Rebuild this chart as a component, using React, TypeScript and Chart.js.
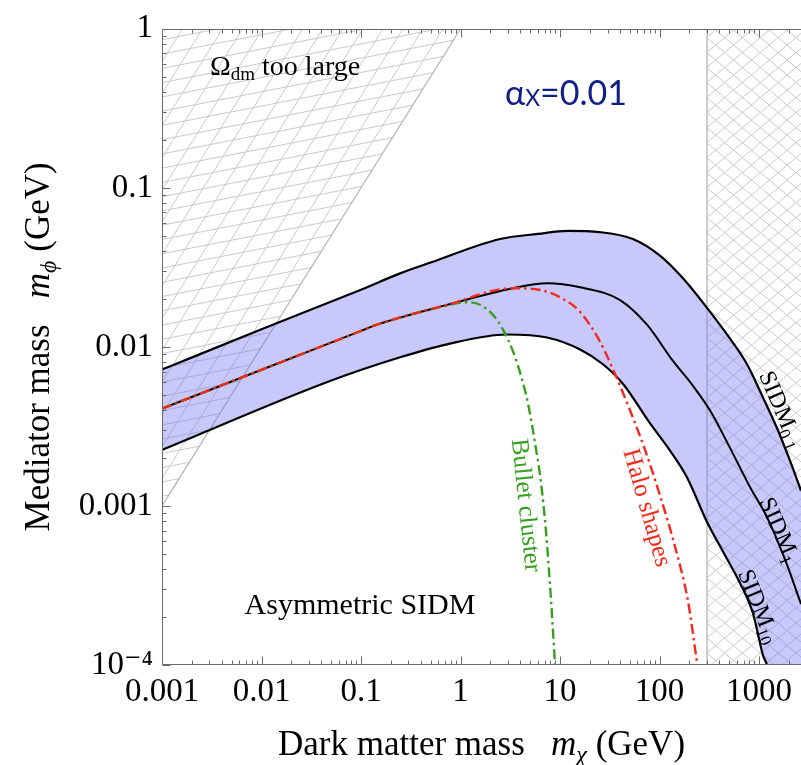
import React, { useEffect, useRef } from 'react';
import { Chart, registerables } from 'chart.js';

Chart.register(...registerables);

// ---------- axis ranges and tick labels ----------
const X_MIN = 0.001;
const X_MAX = 2640;
const Y_MIN = 1e-4;
const Y_MAX = 1;

const X_MAJOR = [0.001, 0.01, 0.1, 1, 10, 100, 1000];
const X_LABELS = ['0.001', '0.01', '0.1', '1', '10', '100', '1000'];
const Y_MAJOR = [1e-4, 1e-3, 0.01, 0.1, 1];
const Y_LABELS = ['10⁻⁴', '0.001', '0.01', '0.1', '1'];

// ---------- curves ----------
// SIDM 0.1 cm^2/g  (upper edge of band)
const SIDM01_X = [0.001, 0.01, 0.1, 0.247, 0.5, 2.5, 6, 12, 25, 54, 101, 172, 300, 476, 757, 1096, 1517, 2050, 2640];
const SIDM01_Y = [0.0072, 0.0129, 0.0229, 0.029, 0.0339, 0.0477, 0.0513, 0.0536, 0.0527, 0.0477, 0.0375, 0.027, 0.0176, 0.01197, 0.00778, 0.0048, 0.00308, 0.00192, 0.00125];

// SIDM 1 cm^2/g  (middle)
const SIDM1_X = [0.001, 0.01, 0.1, 0.145, 0.731, 3.37, 7.4, 15.9, 40.1, 74.8, 137, 217, 322, 512, 813, 1203, 1823, 2640];
const SIDM1_Y = [0.00409, 0.00718, 0.0126, 0.0138, 0.01837, 0.02339, 0.0251, 0.0237, 0.0197, 0.0138, 0.00813, 0.00569, 0.00398, 0.00231, 0.00131, 0.000851, 0.000461, 0.000242];

// SIDM 10 cm^2/g  (lower edge of band)
const SIDM10_X = [0.001, 0.0488, 0.247, 0.731, 2.93, 7.4, 15.9, 27.0, 43.0, 80.4, 128, 189, 300, 434, 644, 871, 1096, 1203, 1445, 2640];
const SIDM10_Y = [0.00225, 0.0061, 0.0086, 0.01038, 0.01197, 0.01146, 0.00964, 0.00778, 0.00585, 0.0033, 0.00222, 0.00151, 0.000793, 0.000517, 0.000327, 0.00021, 0.000115, 0.0001, 0.00006, 0.000026];

// Bullet cluster constraint
const BULLET_X = [0.001, 0.01, 0.1, 0.145, 0.731, 1.16, 1.57, 2.12, 2.67, 3.37, 4.06, 4.77, 5.61, 6.44, 7.23, 8.13, 8.91];
const BULLET_Y = [0.00409, 0.00718, 0.0126, 0.0138, 0.0182, 0.0191, 0.0184, 0.0159, 0.01284, 0.00938, 0.00656, 0.0044, 0.00248, 0.0014, 0.000687, 0.000253, 0.0001];

// Halo shapes constraint
const HALO_X = [0.001, 0.01, 0.1, 0.145, 0.731, 3.37, 6.3, 10, 15.9, 25.2, 35.7, 50.6, 71.5, 101, 143, 193, 240];
const HALO_Y = [0.00409, 0.00718, 0.0126, 0.0138, 0.01837, 0.0234, 0.0228, 0.0205, 0.0166, 0.0108, 0.00675, 0.00398, 0.00225, 0.001166, 0.000555, 0.000253, 0.0001];

// Omega_dm too large boundary (m_phi = m_chi) and the 300 GeV boundary
const OMEGA_X = [0.001, 1];
const OMEGA_Y = [0.001, 1];
const UNIT_X = [300, 300];
const UNIT_Y = [1e-4, 1];

// ---------- styles ----------
const SERIF = "'Liberation Serif', 'DejaVu Serif', 'Times New Roman', serif";
const SANS = "Lato, 'Open Sans', 'DejaVu Sans', sans-serif";
const BAND = 'rgba(118,118,243,0.40)';
const RED = '#f5281c';
const GREEN = '#35a01c';
const NAVY = '#10208a';
const AXIS = '#6a6a6a';
const HATCH = '#c9c9c9';

type Part = { t: string; font: string; dy?: number };

type Label = {
  parts: Part[];
  x: number;
  y: number;
  angle: number;
  color: string;
  mode: 'center' | 'left';
};

const LABELS: Label[] = [
  { parts: [{ t: 'Ω', font: `28px ${SERIF}` }, { t: 'dm', font: `19px ${SERIF}`, dy: 5 }, { t: ' too large', font: `28px ${SERIF}` }], x: 0.00303, y: 0.511, angle: 0, color: '#000', mode: 'left' },
  { parts: [{ t: 'α', font: `34px ${SANS}` }, { t: 'X', font: `23px ${SANS}`, dy: 1 }, { t: '=0.01', font: `34px ${SANS}` }], x: 2.8, y: 0.333, angle: 0, color: NAVY, mode: 'left' },
  { parts: [{ t: 'Asymmetric SIDM', font: `30px ${SERIF}` }], x: 0.0977, y: 0.00021, angle: 0, color: '#000', mode: 'center' },
  { parts: [{ t: 'Bullet cluster', font: `25px ${SERIF}` }], x: 4.66, y: 0.00101, angle: 84, color: GREEN, mode: 'center' },
  { parts: [{ t: 'Halo shapes', font: `25px ${SERIF}` }], x: 76.6, y: 0.00098, angle: 74, color: RED, mode: 'center' },
  { parts: [{ t: 'SIDM', font: `24px ${SERIF}` }, { t: '0.1', font: `17px ${SERIF}`, dy: 5 }], x: 1700, y: 0.00405, angle: 67, color: '#000', mode: 'center' },
  { parts: [{ t: 'SIDM', font: `24px ${SERIF}` }, { t: '1', font: `17px ${SERIF}`, dy: 5 }], x: 1620, y: 0.00071, angle: 66, color: '#000', mode: 'center' },
  { parts: [{ t: 'SIDM', font: `24px ${SERIF}` }, { t: '10', font: `17px ${SERIF}`, dy: 5 }], x: 1010, y: 0.000235, angle: 68, color: '#000', mode: 'center' },
];

const X_TITLE: Part[] = [
  { t: 'Dark matter mass   ', font: `35px ${SERIF}` },
  { t: 'm', font: `italic 35px ${SERIF}` },
  { t: 'χ', font: `italic 24px ${SERIF}`, dy: 7 },
  { t: ' (GeV)', font: `35px ${SERIF}` },
];
const Y_TITLE: Part[] = [
  { t: 'Mediator mass   ', font: `35px ${SERIF}` },
  { t: 'm', font: `italic 35px ${SERIF}` },
  { t: 'ϕ', font: `italic 24px ${SERIF}`, dy: 7 },
  { t: ' (GeV)', font: `35px ${SERIF}` },
];

function minorTicks(majors: number[], lo: number, hi: number): number[] {
  const out: number[] = [];
  for (const m of majors) {
    for (let k = 1; k <= 9; k++) {
      const v = m * k;
      if (v >= lo * 0.999 && v <= hi * 1.001) out.push(v);
    }
  }
  return out;
}
const X_TICKS = minorTicks(X_MAJOR, X_MIN, X_MAX);
const Y_TICKS = minorTicks(Y_MAJOR, Y_MIN, Y_MAX);

function isMajor(v: number, majors: number[]): number {
  for (let i = 0; i < majors.length; i++) {
    if (Math.abs(Math.log10(v) - Math.log10(majors[i])) < 1e-6) return i;
  }
  return -1;
}

function richWidth(ctx: CanvasRenderingContext2D, parts: Part[]) {
  let w = 0;
  for (const p of parts) {
    ctx.font = p.font;
    w += ctx.measureText(p.t).width;
  }
  return w;
}
function drawRich(ctx: CanvasRenderingContext2D, parts: Part[], x: number, y: number) {
  let cx = x;
  for (const p of parts) {
    ctx.font = p.font;
    ctx.fillText(p.t, cx, y + (p.dy || 0));
    cx += ctx.measureText(p.t).width;
  }
}

function hatchFamily(ctx: CanvasRenderingContext2D, a: any, deg: number, s: number) {
  const t = (deg * Math.PI) / 180;
  const dx = Math.cos(t);
  const dy = -Math.sin(t);
  const nx = -dy;
  const ny = dx;
  const corners = [
    [a.left, a.top],
    [a.right, a.top],
    [a.left, a.bottom],
    [a.right, a.bottom],
  ];
  const cs = corners.map(([px, py]) => px * nx + py * ny);
  const cmin = Math.min(...cs);
  const cmax = Math.max(...cs);
  const L = 4000;
  ctx.beginPath();
  for (let c = Math.floor(cmin / s) * s; c <= cmax + s; c += s) {
    const px = nx * c;
    const py = ny * c;
    ctx.moveTo(px - dx * L, py - dy * L);
    ctx.lineTo(px + dx * L, py + dy * L);
  }
  ctx.stroke();
}

const hatchPlugin = {
  id: 'hatchRegions',
  beforeDatasetsDraw(chart: any) {
    const { ctx, chartArea: a, scales } = chart;
    const x = scales.x;
    const y = scales.y;
    ctx.save();
    ctx.beginPath();
    ctx.rect(a.left, a.top, a.right - a.left, a.bottom - a.top);
    ctx.clip();
    ctx.strokeStyle = HATCH;
    ctx.lineWidth = 1;
    // Omega_dm too large: above m_phi = m_chi
    ctx.save();
    ctx.beginPath();
    ctx.moveTo(x.getPixelForValue(OMEGA_X[0]), y.getPixelForValue(OMEGA_Y[0]));
    ctx.lineTo(x.getPixelForValue(OMEGA_X[1]), y.getPixelForValue(OMEGA_Y[1]));
    ctx.lineTo(x.getPixelForValue(X_MIN), y.getPixelForValue(Y_MAX));
    ctx.closePath();
    ctx.clip();
    hatchFamily(ctx, a, 11, 14);
    hatchFamily(ctx, a, 58, 17);
    ctx.restore();
    // right region beyond 300 GeV
    ctx.save();
    const xr = x.getPixelForValue(UNIT_X[0]);
    ctx.beginPath();
    ctx.rect(xr, a.top, a.right - xr + 2, a.bottom - a.top);
    ctx.clip();
    hatchFamily(ctx, a, 40, 11.5);
    hatchFamily(ctx, a, -40, 11.5);
    ctx.restore();
    ctx.restore();
  },
};

const framePlugin = {
  id: 'frameTicks',
  afterDatasetsDraw(chart: any) {
    const { ctx, chartArea: a, scales } = chart;
    const x = scales.x;
    const y = scales.y;
    const L = Math.round(a.left) + 0.5;
    const T = Math.round(a.top) + 0.5;
    const B = Math.round(a.bottom) - 0.5;
    const R = a.right + 1;
    ctx.save();
    ctx.strokeStyle = AXIS;
    ctx.lineWidth = 1;
    ctx.beginPath();
    ctx.moveTo(R, T);
    ctx.lineTo(L, T);
    ctx.lineTo(L, B);
    ctx.lineTo(R, B);
    for (const v of X_TICKS) {
      const px = Math.round(x.getPixelForValue(v)) + 0.5;
      const len = isMajor(v, X_MAJOR) >= 0 ? 8 : 4;
      ctx.moveTo(px, B);
      ctx.lineTo(px, B - len);
      ctx.moveTo(px, T);
      ctx.lineTo(px, T + len);
    }
    for (const v of Y_TICKS) {
      const py = Math.round(y.getPixelForValue(v)) + 0.5;
      const len = isMajor(v, Y_MAJOR) >= 0 ? 8 : 4;
      ctx.moveTo(L, py);
      ctx.lineTo(L + len, py);
    }
    ctx.stroke();
    ctx.restore();
  },
};

const textPlugin = {
  id: 'textLabels',
  afterDraw(chart: any) {
    const { ctx, chartArea: a, scales } = chart;
    const x = scales.x;
    const y = scales.y;
    ctx.save();
    ctx.textAlign = 'left';
    ctx.textBaseline = 'alphabetic';
    for (const lab of LABELS) {
      const px = x.getPixelForValue(lab.x);
      const py = y.getPixelForValue(lab.y);
      ctx.fillStyle = lab.color;
      const w = richWidth(ctx, lab.parts);
      if (lab.mode === 'left') {
        drawRich(ctx, lab.parts, px, py);
      } else if (lab.angle === 0) {
        drawRich(ctx, lab.parts, px - w / 2, py);
      } else {
        const size = parseFloat(lab.parts[0].font);
        ctx.save();
        ctx.translate(px, py);
        ctx.rotate((lab.angle * Math.PI) / 180);
        drawRich(ctx, lab.parts, -w / 2, size * 0.33);
        ctx.restore();
      }
    }
    // axis titles
    ctx.fillStyle = '#000';
    const cx = (a.left + a.right) / 2;
    const wx = richWidth(ctx, X_TITLE);
    drawRich(ctx, X_TITLE, cx - wx / 2, a.bottom + 90);
    const cy = (a.top + a.bottom) / 2;
    const wy = richWidth(ctx, Y_TITLE);
    ctx.save();
    ctx.translate(a.left - 113, cy);
    ctx.rotate(-Math.PI / 2);
    drawRich(ctx, Y_TITLE, -wy / 2, 0);
    ctx.restore();
    ctx.restore();
  },
};

function pts(xs: number[], ys: number[]) {
  return xs.map((v, i) => ({ x: v, y: ys[i] }));
}

export default function App() {
  const ref = useRef<HTMLCanvasElement | null>(null);

  useEffect(() => {
    const canvas = ref.current;
    if (!canvas) return;
    const base = { showLine: true, pointRadius: 0, pointHoverRadius: 0, fill: false, clip: 0 as any };
    const chart = new Chart(canvas, {
      type: 'scatter',
      data: {
        datasets: [
          { ...base, label: 'SIDM10', data: pts(SIDM10_X, SIDM10_Y), borderColor: '#000', borderWidth: 2.2, cubicInterpolationMode: 'monotone', order: 4 },
          { ...base, label: 'SIDM0.1', data: pts(SIDM01_X, SIDM01_Y), borderColor: '#000', borderWidth: 2.2, cubicInterpolationMode: 'monotone', fill: '-1', backgroundColor: BAND, order: 5 },
          { ...base, label: 'SIDM1', data: pts(SIDM1_X, SIDM1_Y), borderColor: '#000', borderWidth: 2, cubicInterpolationMode: 'monotone', order: 3 },
          { ...base, label: 'Bullet cluster', data: pts(BULLET_X, BULLET_Y), borderColor: GREEN, borderWidth: 2.4, borderDash: [10, 4, 2.5, 4], cubicInterpolationMode: 'monotone', order: 2 },
          { ...base, label: 'Halo shapes', data: pts(HALO_X, HALO_Y), borderColor: RED, borderWidth: 2.4, borderDash: [10, 4, 2.5, 4], cubicInterpolationMode: 'monotone', order: 1 },
          { ...base, label: 'Omega boundary', data: pts(OMEGA_X, OMEGA_Y), borderColor: '#b2b2b2', borderWidth: 1.2, order: 6 },
          { ...base, label: '300 GeV boundary', data: pts(UNIT_X, UNIT_Y), borderColor: '#bdbdbd', borderWidth: 1.5, order: 7 },
        ] as any,
      },
      options: {
        animation: false,
        responsive: false,
        maintainAspectRatio: false,
        events: [],
        layout: { padding: { top: 20, left: 0, right: 0, bottom: 0 } },
        plugins: {
          legend: { display: false },
          tooltip: { enabled: false },
          title: { display: false },
        },
        scales: {
          x: {
            type: 'logarithmic',
            min: X_MIN,
            max: X_MAX,
            grid: { display: false, drawTicks: false },
            border: { display: false },
            title: { display: false },
            ticks: {
              autoSkip: false,
              maxRotation: 0,
              minRotation: 0,
              padding: 8,
              color: '#000',
              font: { family: SERIF, size: 33 },
              callback: (_v: any, i: number, ticks: any[]) => {
                const k = isMajor(ticks[i].value, X_MAJOR);
                return k >= 0 ? X_LABELS[k] : '';
              },
            },
            afterBuildTicks: (s: any) => {
              s.ticks = X_TICKS.map((v) => ({ value: v }));
            },
            afterFit: (s: any) => {
              s.height = 100;
            },
          },
          y: {
            type: 'logarithmic',
            min: Y_MIN,
            max: Y_MAX,
            grid: { display: false, drawTicks: false },
            border: { display: false },
            title: { display: false },
            ticks: {
              autoSkip: false,
              padding: 9,
              color: '#000',
              font: { family: SERIF, size: 33 },
              callback: (_v: any, i: number, ticks: any[]) => {
                const k = isMajor(ticks[i].value, Y_MAJOR);
                return k >= 0 ? Y_LABELS[k] : '';
              },
            },
            afterBuildTicks: (s: any) => {
              s.ticks = Y_TICKS.map((v) => ({ value: v }));
            },
            afterFit: (s: any) => {
              s.width = 162;
            },
          },
        } as any,
      },
      plugins: [hatchPlugin, framePlugin, textPlugin],
    } as any);
    return () => chart.destroy();
  }, []);

  return (
    <div style={{ position: 'absolute', left: 0, top: 0, width: 801, height: 765, background: '#fff' }}>
      <canvas ref={ref} width={801} height={765} style={{ display: 'block' }} />
    </div>
  );
}
